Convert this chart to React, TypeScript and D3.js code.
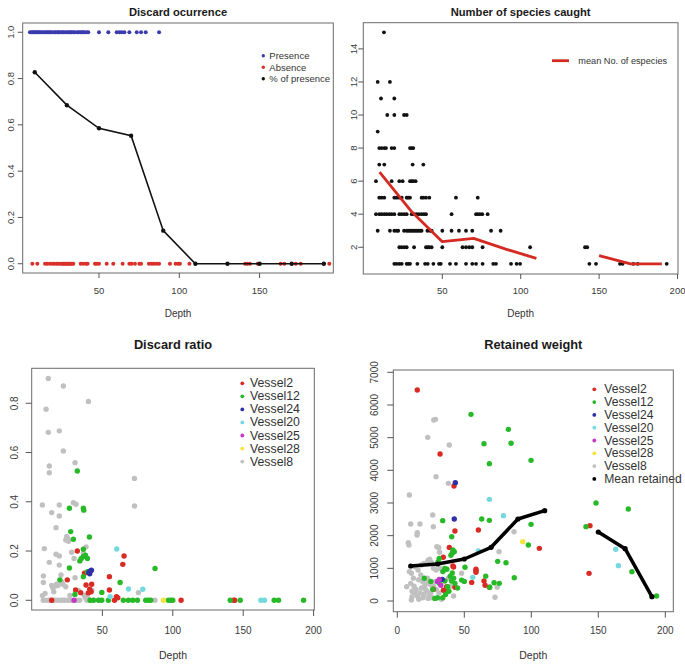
import React from 'react';
import * as d3 from 'd3';

const FONT = '"Liberation Sans", Arial, Helvetica, sans-serif';

// ---------- Panel 1: Discard ocurrence ----------
const presenceDepth = [7, 8, 8.8, 9.5, 10, 11, 11.6, 12.3, 13, 14, 14.9, 16, 17, 17.7, 18.5, 19.4, 20, 21, 22.3, 23, 24, 24.7, 25.5, 26.6, 27.5, 28.2, 29.4, 30.6, 31.3, 32.2, 33, 34, 35, 36.5, 37.3, 38.4, 39.4, 40.1, 41, 42.4, 43.3, 50, 55.8, 61, 62.7, 64.1, 65.8, 68.9, 73.5, 76.2, 79.1, 87.4];
const absenceDepth = [8.5, 11.6, 16.4, 17.8, 19.5, 20.9, 22.2, 23.6, 24.7, 26.1, 27, 27.8, 28.5, 29.2, 30, 30.9, 31.6, 32.4, 33.2, 34, 38.6, 40.2, 41.9, 42.9, 47.5, 48.5, 50, 54.8, 58.9, 64.7, 68.9, 70.3, 72.4, 75.1, 76.2, 81.1, 82.8, 84.2, 85.9, 87.4, 94.2, 97.7, 99.4, 100.4, 106.3, 141, 142.4, 144, 148.8, 163.1, 165.4, 172.5, 175.6, 193.4];
const occurrenceBins = [10, 30, 50, 70, 90, 110, 130, 150, 170, 190];
const presenceShare = [0.827, 0.685, 0.585, 0.553, 0.143, 0, 0, 0, 0, 0];
const occurrenceLegend = ['Presence', 'Absence', '% of presence'];

// ---------- Panel 2: Number of species caught ----------
const speciesRows: [number, number[]][] = [
  [15, [12.8]],
  [12, [8.8, 16.6]],
  [11, [10.9, 19.4]],
  [10, [14.9, 19.4, 25.6, 27.3]],
  [9, [8.8]],
  [8, [9.8, 11.3, 13.0, 14.1, 17.7, 19.4, 29.4, 30.5, 31.5]],
  [7, [9.8, 13.0, 31.1, 37.9]],
  [6, [7.7, 17.7, 22.6, 24.7, 29.4, 30.5, 31.5, 33.0]],
  [5, [9.8, 11.3, 13.0, 19.4, 20.9, 22.6, 24.1, 27.3, 28.3, 29.4, 36.8, 37.9, 39.6, 41.7, 58.7, 72.6]],
  [4, [7.7, 9.8, 11.3, 13.0, 14.5, 16.2, 17.7, 19.4, 22.6, 24.1, 25.8, 27.3, 30.5, 32.0, 33.6, 35.1, 36.8, 38.3, 39.6, 55.9, 71.5, 72.6, 74.0, 75.5, 78.9]],
  [3, [8.8, 16.6, 19.4, 20.9, 21.9, 25.6, 27.3, 28.3, 29.4, 30.5, 31.5, 32.6, 33.6, 34.7, 35.8, 36.8, 40.5, 42.2, 43.2, 50.0, 55.9, 60.6, 65.1, 69.1, 81.1, 87.2]],
  [2, [22.6, 24.1, 25.8, 27.3, 32.0, 39.6, 40.7, 41.7, 43.2, 50.0, 62.9, 65.1, 67.2, 69.1, 75.7, 106, 141, 142.4]],
  [1, [19.4, 20.9, 22.6, 24.1, 27.3, 28.3, 29.4, 34.1, 39.0, 40.7, 44.3, 47.9, 49.0, 54.9, 58.7, 65.1, 69.1, 71.5, 75.7, 82.5, 84.2, 93.8, 97.4, 99.6, 143.8, 148.0, 163.3, 165.0, 171.8, 174.6, 193.1]],
];
const meanSpeciesDepthA = [10, 30, 50, 70, 90, 110];
const meanSpeciesA = [6.55, 4.2, 2.34, 2.54, 1.9, 1.33];
const meanSpeciesDepthB = [150, 170, 190];
const meanSpeciesB = [1.49, 1.0, 1.0];

// ---------- Vessels ----------
const vesselNames = ['Vessel2', 'Vessel12', 'Vessel24', 'Vessel20', 'Vessel25', 'Vessel28', 'Vessel8'];
const vesselColors = ['#d92b24', '#27b927', '#2f2fa8', '#74d9dd', '#c438c4', '#f2e43c', '#c0c0c0'];

// Panel 3: Discard ratio  [depth, ratio]
const ratioVessel2: [number, number][] = [[32.2, 0.2], [65.4, 0.18], [64.5, 0.146], [55, 0.096], [55, 0.042], [25.1, 0.083], [38.4, 0.062], [42.4, 0.065], [41, 0.045], [40, 0.03], [42, 0.035], [37.3, 0.11], [34.6, 0.031], [31, 0.042], [60, 0.015], [61, 0.01], [58.6, 0], [105.9, 0], [143.1, 0], [144, 0], [14, 0]];
const ratioVessel12: [number, number][] = [[32.2, 0.525], [36.5, 0.374], [36.8, 0.366], [26.6, 0.374], [27.5, 0.279], [29.4, 0.248], [40.8, 0.257], [36.5, 0.207], [34, 0.16], [35, 0.17], [36.5, 0.178], [38, 0.183], [39.4, 0.17], [26.6, 0.131], [19.8, 0.083], [36.5, 0.096], [62.6, 0.072], [49.6, 0.032], [87.4, 0.129], [30.5, 0.024], [39.4, 0.116], [41.3, 0], [43.6, 0], [47.2, 0], [49.6, 0], [54.3, 0], [64.9, 0], [68.5, 0], [71.6, 0], [74.9, 0], [80.8, 0], [82.7, 0], [84.4, 0], [96.9, 0], [98.6, 0], [100, 0], [140.8, 0], [147.9, 0], [172, 0], [175.1, 0], [192.9, 0]];
const ratioVessel24: [number, number][] = [[40.4, 0.113], [41.3, 0.118], [42.2, 0.122], [41, 0.108]];
const ratioVessel20: [number, number][] = [[60.2, 0.208], [68.5, 0.046], [78.7, 0.045], [55.5, 0.015], [162.6, 0], [165.2, 0]];
const ratioVessel25: [number, number][] = [[29.9, 0]];
const ratioVessel28: [number, number][] = [[93.4, 0]];
const ratioVessel8: [number, number][] = [[11.6, 0.901], [22.3, 0.87], [10.0, 0.776], [40.1, 0.807], [11.6, 0.682], [19.4, 0.688], [22.3, 0.606], [12.3, 0.545], [12.3, 0.518], [30.6, 0.559], [72.8, 0.495], [72.8, 0.383], [7.4, 0.387], [14.0, 0.356], [19.4, 0.387], [19.4, 0.342], [29.4, 0.396], [31.3, 0.39], [17.1, 0.295], [8.8, 0.21], [12.3, 0.154], [17.1, 0.187], [19.4, 0.18], [19.4, 0.143], [20.6, 0.103], [24.7, 0.259], [25.5, 0.25], [26, 0.24], [24, 0.245], [28.2, 0.195], [29.9, 0.17], [30.6, 0.092], [38.4, 0.217], [36.5, 0.191], [8.1, 0.099], [8.1, 0.072], [7.4, 0.019], [9.3, 0.028], [14, 0.06], [14.8, 0.05], [15.5, 0.035], [16.5, 0.058], [17.5, 0.065], [18.5, 0.06], [21, 0.075], [22, 0.065], [24, 0.055], [27, 0.02], [33, 0.04], [37, 0.02], [38, 0.01], [39.5, 0.01], [42.5, 0.04], [75.6, 0.031], [8, 0], [10, 0], [12, 0], [13.5, 0], [15, 0], [16, 0], [18, 0], [20, 0], [21.5, 0], [23, 0], [25, 0], [26.5, 0], [28, 0], [32, 0], [34, 0], [39, 0], [41, 0], [44, 0], [48, 0], [87.4, 0]];

// Panel 4: Retained weight  [depth, weight]
const weightVessel2: [number, number][] = [[14.9, 6459], [31.9, 4500], [42.3, 3520], [60.5, 2173], [43, 2143], [38.8, 1640], [106, 1612], [143.8, 2306], [143.1, 847], [41.5, 1070], [42, 1040], [58.7, 970], [58.7, 930], [58.7, 880], [55.5, 570], [64.7, 610], [65.5, 480], [68.7, 420], [26.9, 358], [34.4, 330], [36.5, 300], [43, 420], [34.3, 1340], [36.8, 439]];
const weightVessel12: [number, number][] = [[55, 5714], [82.9, 5255], [64.7, 4816], [84.9, 4827], [68.7, 4204], [99.8, 4306], [148.3, 3000], [172.4, 2816], [33.9, 2459], [63, 2510], [68.7, 2469], [99.8, 2347], [140.8, 2276], [40.6, 1969], [41.5, 1560], [42.5, 1510], [41, 1460], [40, 1400], [74.9, 1214], [81.1, 1173], [37, 970], [87.3, 714], [97.8, 1714], [175.1, 898], [193.5, 153], [50.5, 1031], [48, 640], [50, 600], [31.3, 1306], [30.5, 1200], [20.1, 695], [25, 600], [26.5, 360], [28, 80], [30, 100], [31.3, 540], [35.5, 610], [37.5, 440], [38.5, 300], [39.5, 760], [41, 860], [42, 700], [43, 540], [45, 400], [40.5, 610], [72.2, 560], [76.1, 540], [69, 420], [66, 760], [33.9, 100], [34, 900], [35.5, 1000], [36, 200]];
const weightVessel24: [number, number][] = [[43.3, 3622], [42.5, 2510], [33.5, 663]];
const weightVessel20: [number, number][] = [[68.7, 3112], [79.2, 2612], [60.5, 1531], [56.3, 724], [163, 1582], [165, 1082]];
const weightVessel25: [number, number][] = [[31.3, 663], [32.5, 480], [30, 600]];
const weightVessel28: [number, number][] = [[93.6, 1816]];
const weightVessel8: [number, number][] = [[27.2, 5540], [28.5, 5560], [22.7, 5010], [38.8, 4775], [28.9, 3806], [38.1, 3602], [9, 3245], [10, 2357], [16.9, 2357], [26.4, 2632], [26.9, 2276], [87.1, 2122], [14.7, 2020], [14.9, 2090], [8.2, 1785], [8.7, 1714], [75.9, 1510], [29.5, 1660], [31, 1640], [31.5, 1490], [24.2, 1276], [18, 1100], [22, 1150], [13.2, 1050], [25.5, 1180], [27, 1000], [29, 950], [32, 1000], [35, 950], [9, 900], [10.5, 850], [12, 700], [16, 650], [19, 600], [21, 650], [23, 550], [25, 500], [27, 450], [10, 540], [7, 440], [11, 300], [13, 250], [14, 350], [15, 150], [17, 250], [18, 400], [19, 100], [20, 200], [21, 350], [22, 300], [23, 80], [24, 150], [25, 250], [26, 100], [10.5, 30], [11, 130], [16, 50], [29, 350], [31, 250], [33, 50], [42, 153], [74.5, 420], [72.9, 113], [48, 850], [38, 700], [39.5, 450], [20, 1150], [23, 1250], [28.5, 600], [15.5, 950], [17.5, 800], [12.5, 450], [20.5, 480], [22.5, 700]];
const meanWeightDepthA = [10, 30, 50, 70, 90, 110];
const meanWeightA = [1071, 1133, 1286, 1643, 2510, 2765];
const meanWeightDepthB = [150, 170, 190];
const meanWeightB = [2112, 1602, 133];

const ratioByVessel = [ratioVessel2, ratioVessel12, ratioVessel24, ratioVessel20, ratioVessel25, ratioVessel28, ratioVessel8];
const weightByVessel = [weightVessel2, weightVessel12, weightVessel24, weightVessel20, weightVessel25, weightVessel28, weightVessel8];
const drawOrder = [6, 0, 1, 2, 3, 4, 5];

type Box = { l: number; r: number; t: number; b: number };
type FrameProps = {
  box: Box;
  x: d3.ScaleLinear<number, number>;
  y: d3.ScaleLinear<number, number>;
  xTicks: number[];
  yTicks: number[];
  yFmt: (v: number) => string;
  title: string;
  titleY: number;
  titleSize: number;
  tickSize: number;
  tickLen: number;
  xLabY: number;
  yLabOff: number;
  depthY: number;
  children?: React.ReactNode;
};

function Frame(p: FrameProps) {
  const { box, x, y } = p;
  const cx = (box.l + box.r) / 2;
  return (
    <g>
      <text x={cx} y={p.titleY} textAnchor="middle" dominantBaseline="central" fontFamily={FONT} fontWeight="bold" fontSize={p.titleSize} fill="#1a1a1a">{p.title}</text>
      {p.children}
      <rect x={box.l} y={box.t} width={box.r - box.l} height={box.b - box.t} fill="none" stroke="#6a6a6a" strokeWidth={1} />
      {p.xTicks.map((t) => (
        <g key={'x' + t}>
          <line x1={x(t)} x2={x(t)} y1={box.b} y2={box.b + p.tickLen} stroke="#555" />
          <text x={x(t)} y={p.xLabY} textAnchor="middle" dominantBaseline="central" fontFamily={FONT} fontSize={p.tickSize} fill="#3a3a3a">{t}</text>
        </g>
      ))}
      {p.yTicks.map((t) => (
        <g key={'y' + t}>
          <line x1={box.l - p.tickLen} x2={box.l} y1={y(t)} y2={y(t)} stroke="#555" />
          <text transform={`translate(${box.l - p.yLabOff},${y(t)}) rotate(-90)`} textAnchor="middle" dominantBaseline="central" fontFamily={FONT} fontSize={p.tickSize} fill="#3a3a3a">{p.yFmt(t)}</text>
        </g>
      ))}
      <text x={cx} y={p.depthY} textAnchor="middle" dominantBaseline="central" fontFamily={FONT} fontSize={p.tickSize + 0.5} fill="#333">Depth</text>
    </g>
  );
}

export default function App() {
  // Panel 1
  const b1: Box = { l: 22.7, r: 333.3, t: 23, b: 273 };
  const x1 = d3.scaleLinear().domain([2.49, 195.9]).range([b1.l, b1.r]);
  const y1 = d3.scaleLinear().domain([-0.04, 1.04]).range([b1.b, b1.t]);
  const line1 = d3.line<number>().x((d, i) => x1(occurrenceBins[i])).y((d) => y1(d));

  // Panel 2
  const b2: Box = { l: 363.3, r: 678, t: 22.7, b: 274 };
  const x2 = d3.scaleLinear().domain([-0.38, 200.3]).range([b2.l, b2.r]);
  const y2 = d3.scaleLinear().domain([0.383, 15.585]).range([b2.b, b2.t]);
  const line2A = d3.line<number>().x((d, i) => x2(meanSpeciesDepthA[i])).y((d) => y2(d));
  const line2B = d3.line<number>().x((d, i) => x2(meanSpeciesDepthB[i])).y((d) => y2(d));

  // Panel 3
  const b3: Box = { l: 31.7, r: 314.3, t: 368.3, b: 610 };
  const x3 = d3.scaleLinear().domain([-0.19, 200.5]).range([b3.l, b3.r]);
  const y3 = d3.scaleLinear().domain([-0.0394, 0.942]).range([b3.b, b3.t]);

  // Panel 4
  const b4: Box = { l: 393.3, r: 673.3, t: 370, b: 611.7 };
  const x4 = d3.scaleLinear().domain([-2.99, 205.97]).range([b4.l, b4.r]);
  const y4 = d3.scaleLinear().domain([-327.5, 7071]).range([b4.b, b4.t]);
  const line4A = d3.line<number>().x((d, i) => x4(meanWeightDepthA[i])).y((d) => y4(d));
  const line4B = d3.line<number>().x((d, i) => x4(meanWeightDepthB[i])).y((d) => y4(d));

  const fmt1 = d3.format('.1f');
  const fmtInt = d3.format('d');

  const blue = '#3b3bb0';
  const red = '#d9302a';

  return (
    <svg width={685} height={671} style={{ position: 'absolute', left: 0, top: 0 }} xmlns="http://www.w3.org/2000/svg">
      <rect x={0} y={0} width={685} height={671} fill="#ffffff" />

      {/* Panel 1 */}
      <Frame box={b1} x={x1} y={y1} xTicks={[50, 100, 150]} yTicks={[0, 0.2, 0.4, 0.6, 0.8, 1]} yFmt={fmt1}
        title="Discard ocurrence" titleY={12.3} titleSize={11.2} tickSize={9.5} tickLen={5} xLabY={290.7} yLabOff={12.7} depthY={313}>
        {presenceDepth.map((d, i) => <circle key={'p' + i} cx={x1(d)} cy={y1(1)} r={2} fill={blue} />)}
        {absenceDepth.map((d, i) => <circle key={'a' + i} cx={x1(d)} cy={y1(0)} r={2} fill={red} />)}
        <path d={line1(presenceShare) || ''} fill="none" stroke="#111" strokeWidth={1.6} />
        {presenceShare.map((v, i) => <circle key={'m' + i} cx={x1(occurrenceBins[i])} cy={y1(v)} r={2.2} fill="#111" />)}
        {occurrenceLegend.map((name, i) => (
          <g key={name}>
            <circle cx={263.3} cy={55.7 + i * 11.5} r={1.7} fill={[blue, red, '#111'][i]} />
            <text x={269.3} y={55.7 + i * 11.5} dominantBaseline="central" fontFamily={FONT} fontSize={9.5} fill="#333">{name}</text>
          </g>
        ))}
      </Frame>

      {/* Panel 2 */}
      <Frame box={b2} x={x2} y={y2} xTicks={[50, 100, 150, 200]} yTicks={[2, 4, 6, 8, 10, 12, 14]} yFmt={fmtInt}
        title="Number of species caught" titleY={12.3} titleSize={11.2} tickSize={9.5} tickLen={5} xLabY={290.7} yLabOff={10.3} depthY={313}>
        {speciesRows.map(([n, depths]) => depths.map((d, i) => <circle key={n + '-' + i} cx={x2(d)} cy={y2(n)} r={1.9} fill="#111" />))}
        <path d={line2A(meanSpeciesA) || ''} fill="none" stroke="#d42a22" strokeWidth={2.8} strokeLinejoin="round" />
        <path d={line2B(meanSpeciesB) || ''} fill="none" stroke="#d42a22" strokeWidth={2.8} strokeLinejoin="round" />
        <line x1={552} x2={569} y1={60.7} y2={60.7} stroke="#d42a22" strokeWidth={2.8} />
        <text x={578.3} y={60.7} dominantBaseline="central" fontFamily={FONT} fontSize={9.2} fill="#333">mean No. of especies</text>
      </Frame>

      {/* Panel 3 */}
      <Frame box={b3} x={x3} y={y3} xTicks={[50, 100, 150, 200]} yTicks={[0, 0.2, 0.4, 0.6, 0.8]} yFmt={fmt1}
        title="Discard ratio" titleY={344} titleSize={12.8} tickSize={10} tickLen={6} xLabY={630} yLabOff={17.7} depthY={655}>
        {drawOrder.map((vi) => ratioByVessel[vi].map(([d, v], i) => (
          <circle key={vi + '-' + i} cx={x3(d)} cy={y3(v)} r={2.7} fill={vesselColors[vi]} />
        )))}
        {vesselNames.map((name, i) => (
          <g key={name}>
            <circle cx={242.3} cy={383.3 + i * 13.05} r={1.9} fill={vesselColors[i]} />
            <text x={250} y={383.3 + i * 13.05} dominantBaseline="central" fontFamily={FONT} fontSize={12.3} fill="#333">{name}</text>
          </g>
        ))}
      </Frame>

      {/* Panel 4 */}
      <Frame box={b4} x={x4} y={y4} xTicks={[0, 50, 100, 150, 200]} yTicks={[0, 1000, 2000, 3000, 4000, 5000, 6000, 7000]} yFmt={fmtInt}
        title="Retained weight" titleY={344} titleSize={12.8} tickSize={10} tickLen={6} xLabY={630} yLabOff={19} depthY={655}>
        {drawOrder.map((vi) => weightByVessel[vi].map(([d, v], i) => (
          <circle key={vi + '-' + i} cx={x4(d)} cy={y4(v)} r={2.7} fill={vesselColors[vi]} />
        )))}
        <path d={line4A(meanWeightA) || ''} fill="none" stroke="#000" strokeWidth={3.5} strokeLinejoin="round" />
        <path d={line4B(meanWeightB) || ''} fill="none" stroke="#000" strokeWidth={3.5} strokeLinejoin="round" />
        {meanWeightA.map((v, i) => <circle key={'ma' + i} cx={x4(meanWeightDepthA[i])} cy={y4(v)} r={2.6} fill="#000" />)}
        {meanWeightB.map((v, i) => <circle key={'mb' + i} cx={x4(meanWeightDepthB[i])} cy={y4(v)} r={2.6} fill="#000" />)}
        {[...vesselNames, 'Mean retained'].map((name, i) => (
          <g key={name}>
            <circle cx={594.3} cy={389.3 + i * 12.8} r={1.9} fill={i < 7 ? vesselColors[i] : '#000'} />
            <text x={604.3} y={389.3 + i * 12.8} dominantBaseline="central" fontFamily={FONT} fontSize={12.1} fill="#333">{name}</text>
          </g>
        ))}
      </Frame>
    </svg>
  );
}
